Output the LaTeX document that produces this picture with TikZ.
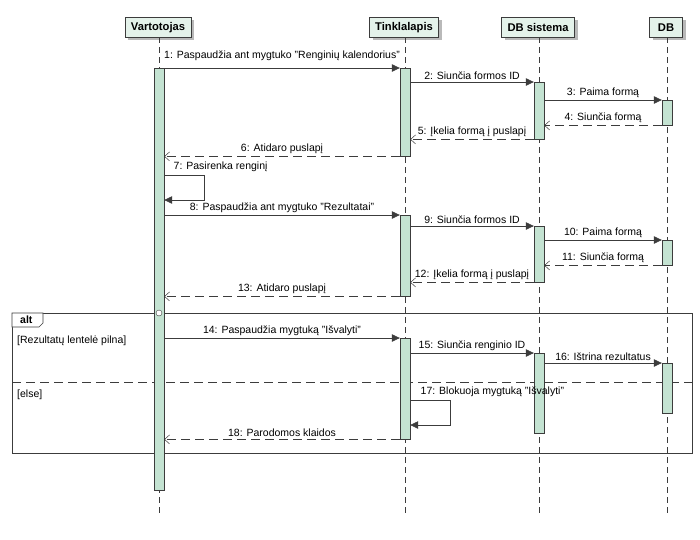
\documentclass[tikz,border=0pt]{standalone}
\usepackage{fontspec}
\setmainfont{Liberation Sans}
\usetikzlibrary{arrows.meta,shadows}
\definecolor{hdrfill}{HTML}{E4F2EA}
\definecolor{barfill}{HTML}{C4E3D2}
\definecolor{ln}{HTML}{3C3C3C}
\tikzset{
  hdr/.style={draw=ln, fill=hdrfill, minimum height=20pt, inner sep=0pt, font=\fontsize{11.2}{13}\selectfont\bfseries, anchor=north,
    drop shadow={shadow xshift=3pt, shadow yshift=-3pt, fill=gray!55, opacity=1}},
  lifeline/.style={draw=ln, dash pattern=on 6pt off 4pt, line width=0.5pt},
  bar/.style={draw=ln, fill=barfill, minimum width=10pt, inner sep=0pt, anchor=north},
  sync/.style={draw=ln, line width=0.6pt, -{Triangle[length=8pt,width=7.5pt]}},
  ret/.style={draw=ln, line width=0.5pt, dash pattern=on 9pt off 5pt, -{Straight Barb[length=5pt,width=9pt,line width=0.5pt]}},
  lbl/.style={font=\fontsize{10.5}{12}\selectfont, inner sep=2.5pt, text=black},
  guard/.style={font=\fontsize{10.5}{12}\selectfont, anchor=west, inner sep=0pt},
}
\begin{document}
\begin{tikzpicture}[x=1pt,y=-1pt]
\useasboundingbox[fill=white] (0,0) rectangle (700,539);
% headers
\node[hdr, minimum width=66pt] (hv) at (158,17) {Vartotojas};
\node[hdr, minimum width=69pt] (ht) at (404,17) {Tinklalapis};
\node[hdr, minimum width=73pt] (hs) at (538,17) {DB sistema};
\node[hdr, minimum width=33pt] (hd) at (666,17) {DB};
% lifeline ends
\coordinate (ev) at (159,515);
\coordinate (et) at (405,515);
\coordinate (es) at (539,515);
\coordinate (ed) at (667,515);
\draw[lifeline] (hv.south -| ev) -- (ev);
\draw[lifeline] (ht.south -| et) -- (et);
\draw[lifeline] (hs.south -| es) -- (es);
\draw[lifeline] (hd.south -| ed) -- (ed);
% alt frame
\node[draw=ln, line width=0.6pt, minimum width=680pt, minimum height=140pt, inner sep=0pt, anchor=north west] (frame) at (12,313) {};
\draw[ln, line width=0.6pt, fill=white] (frame.north west) -- ++(31,0) -- ++(0,10) -- ++(-4,4) -- ++(-27,0) -- cycle;
\node[font=\fontsize{10.5}{11}\selectfont\bfseries, anchor=west, inner sep=0pt] (alttxt) at (20,320) {alt};
\draw[ln, line width=0.6pt, dash pattern=on 9pt off 5pt] (frame.west |- 0,382) -- (frame.east |- 0,382);
\node[guard] (g1) at (17,341) {[Rezultatų lentelė pilna]};
\node[guard] (g2) at (17,395) {[else]};
% activation bars
\node[bar, minimum height=422pt] (va) at (159,68) {};
\node[bar, minimum height=88pt] (t1) at (405,68) {};
\node[bar, minimum height=57pt] (s1) at (539,82) {};
\node[bar, minimum height=25pt] (d1) at (667,100) {};
\node[bar, minimum height=81pt] (t2) at (405,215) {};
\node[bar, minimum height=56pt] (s2) at (539,226) {};
\node[bar, minimum height=25pt] (d2) at (667,240) {};
\node[bar, minimum height=101pt] (t3) at (405,338) {};
\node[bar, minimum height=80pt] (s3) at (539,353) {};
\node[bar, minimum height=50pt] (d3) at (667,363) {};
% circle on frame
\node[circle, draw=ln, fill=white, minimum size=6pt, inner sep=0pt] (oc) at (159,313) {};
% messages
\draw[sync] (va.east |- t1.north) -- node[lbl, above, yshift=5pt] {1: Paspaudžia ant mygtuko "Renginių kalendorius"} (t1.north west);
\draw[sync] (t1.east |- s1.north) -- node[lbl, above] {2: Siunčia formos ID} (s1.north west);
\draw[sync] (s1.east |- d1.north) -- node[lbl, above] {3: Paima formą} (d1.north west);
\draw[ret] (d1.south west) -- node[lbl, above] {4: Siunčia formą} (s1.east |- d1.south);
\draw[ret] (s1.south west) -- node[lbl, above] {5: Įkelia formą į puslapį} (t1.east |- s1.south);
\draw[ret] (t1.south west) -- node[lbl, above] {6: Atidaro puslapį} (va.east |- t1.south);
\coordinate (s7a) at (204,175);
\coordinate (s7b) at (204,200);
\draw[sync] (va.east |- s7a) -- (s7a) -- (s7b) -- (va.east |- s7b);
\node[lbl, inner sep=1.5pt, anchor=south west] (l7) at (172,173.5) {7: Pasirenka renginį};
\draw[sync] (va.east |- t2.north) -- node[lbl, above] {8: Paspaudžia ant mygtuko "Rezultatai"} (t2.north west);
\draw[sync] (t2.east |- s2.north) -- node[lbl, above] {9: Siunčia formos ID} (s2.north west);
\draw[sync] (s2.east |- d2.north) -- node[lbl, above] {10: Paima formą} (d2.north west);
\draw[ret] (d2.south west) -- node[lbl, above] {11: Siunčia formą} (s2.east |- d2.south);
\draw[ret] (s2.south west) -- node[lbl, above] {12: Įkelia formą į puslapį} (t2.east |- s2.south);
\draw[ret] (t2.south west) -- node[lbl, above] {13: Atidaro puslapį} (va.east |- t2.south);
\draw[sync] (va.east |- t3.north) -- node[lbl, above] {14: Paspaudžia mygtuką "Išvalyti"} (t3.north west);
\draw[sync] (t3.east |- s3.north) -- node[lbl, above] {15: Siunčia renginio ID} (s3.north west);
\draw[sync] (s3.east |- d3.north) -- node[lbl, above] {16: Ištrina rezultatus} (d3.north west);
\coordinate (s17a) at (450,400);
\coordinate (s17b) at (450,425);
\draw[sync] (t3.east |- s17a) -- (s17a) -- (s17b) -- (t3.east |- s17b);
\node[lbl, inner sep=1.5pt, anchor=south west] (l17) at (419,398.5) {17: Blokuoja mygtuką "Išvalyti"};
\draw[ret] (t3.south west) -- node[lbl, above] {18: Parodomos klaidos} (va.east |- t3.south);
\end{tikzpicture}
\end{document}
